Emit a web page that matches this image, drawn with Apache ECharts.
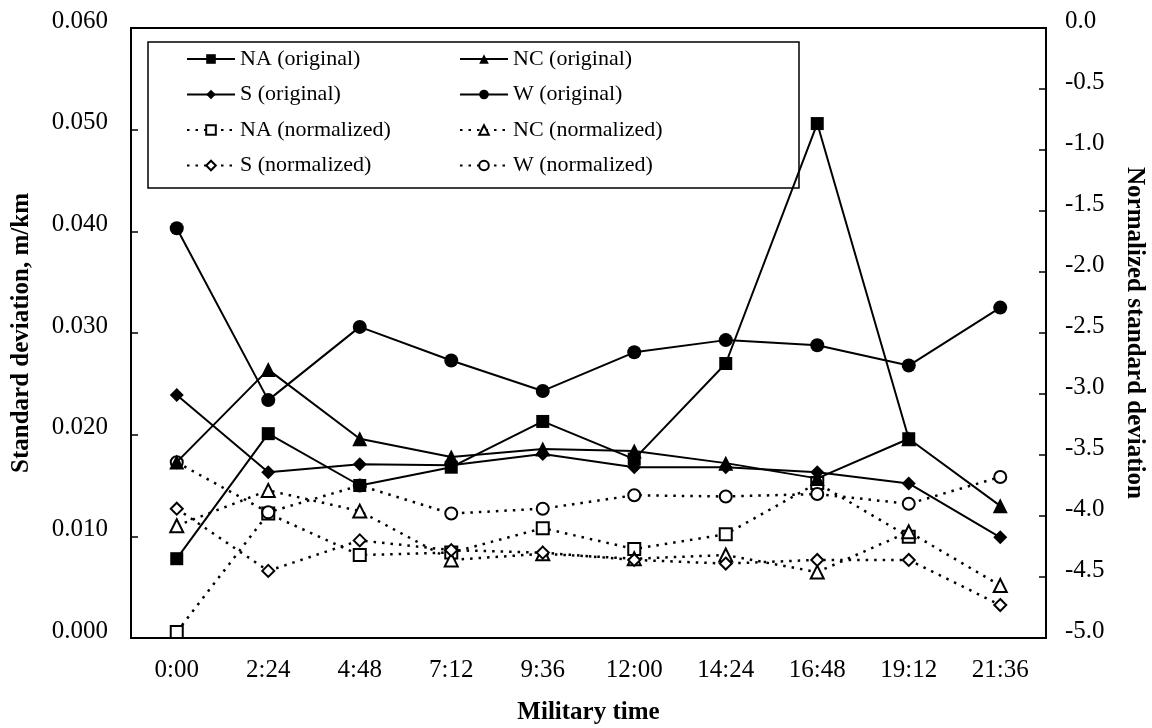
<!DOCTYPE html>
<html>
<head>
<meta charset="utf-8">
<script src="https://cdn.jsdelivr.net/npm/echarts@6/dist/echarts.min.js"></script>
<style>
  html, body { margin: 0; padding: 0; background: #fff; }
  #chart { width: 1152px; height: 728px; }
</style>
</head>
<body>
<div id="chart"></div>
<script>
// time of day categories
const times = ['0:00', '2:24', '4:48', '7:12', '9:36', '12:00', '14:24', '16:48', '19:12', '21:36']

// standard deviation, m/km (left axis)
const naOriginal = [0.0078, 0.0201, 0.0150, 0.0168, 0.0213, 0.0176, 0.0270, 0.0506, 0.0196, null]
const ncOriginal = [0.0173, 0.0264, 0.0196, 0.0178, 0.0186, 0.0184, 0.0172, 0.0157, 0.0196, 0.0130]
const sOriginal = [0.0239, 0.0163, 0.0171, 0.0170, 0.0181, 0.0168, 0.0168, 0.0163, 0.0152, 0.0099]
const wOriginal = [0.0403, 0.0234, 0.0306, 0.0273, 0.0243, 0.0281, 0.0293, 0.0288, 0.0268, 0.0325]

// normalized standard deviation (right axis)
const naNormalized = [-4.95, -3.98, -4.32, -4.30, -4.10, -4.27, -4.15, -3.73, -4.17, null]
const ncNormalized = [-4.08, -3.79, -3.96, -4.36, -4.31, -4.35, -4.32, -4.46, -4.13, -4.57]
const sNormalized = [-3.94, -4.45, -4.20, -4.28, -4.30, -4.36, -4.39, -4.36, -4.36, -4.73]
const wNormalized = [-3.56, -3.97, -3.75, -3.98, -3.94, -3.83, -3.84, -3.82, -3.90, -3.68]

const FONT = 'Liberation Serif'

const chart = echarts.init(document.getElementById('chart'))

// solid line series on the left axis
const originalSeries = (name, data, symbol, size) => ({
  name,
  type: 'line',
  yAxisIndex: 0,
  data,
  symbol,
  symbolSize: size,
  z: 3,
  itemStyle: { color: '#000' },
  lineStyle: { color: '#000', width: 2, type: 'solid' }
})

// dotted line series on the right axis
const normalizedSeries = (name, data, symbol, size) => ({
  name,
  type: 'line',
  yAxisIndex: 1,
  data,
  symbol,
  symbolSize: size,
  z: 2,
  itemStyle: { color: '#000', borderColor: '#000', borderWidth: 1.6 },
  lineStyle: { color: '#000', width: 2.5, type: [2.5, 6] }
})

const legendText = { fontFamily: FONT, fontSize: 22, color: '#000', lineHeight: 24 }
const tickLabel = { fontFamily: FONT, fontSize: 25, color: '#000', verticalAlign: 'bottom', lineHeight: 14 }
const axisName = { fontFamily: FONT, fontSize: 25, fontWeight: 'bold', color: '#000' }

const option = {
  animation: false,
  textStyle: { fontFamily: FONT, color: '#000' },
  grid: {
    left: 131,
    right: 106,
    top: 28,
    bottom: 90,
    containLabel: false,
    outerBoundsMode: 'none',
    show: true,
    borderColor: '#000',
    borderWidth: 2,
    backgroundColor: 'transparent'
  },
  graphic: [
    {
      type: 'rect',
      z: 3,
      shape: { x: 148, y: 42, width: 651, height: 146 },
      style: { fill: '#fff', stroke: '#000', lineWidth: 1.5 }
    }
  ],
  legend: [
    {
      data: ['NA (original)', 'S (original)', 'NA (normalized)', 'S (normalized)'],
      orient: 'vertical',
      left: 181,
      top: 42,
      z: 5,
      itemWidth: 48,
      itemHeight: 12,
      itemGap: 11.5,
      textStyle: legendText
    },
    {
      data: ['NC (original)', 'W (original)', 'NC (normalized)', 'W (normalized)'],
      orient: 'vertical',
      left: 454,
      top: 42,
      z: 5,
      itemWidth: 48,
      itemHeight: 12,
      itemGap: 11.5,
      textStyle: legendText
    }
  ],
  xAxis: {
    type: 'category',
    data: times,
    boundaryGap: true,
    name: 'Military time',
    nameLocation: 'middle',
    nameGap: 62,
    nameTextStyle: axisName,
    axisLine: { lineStyle: { color: '#000', width: 2 } },
    axisTick: { inside: true, length: 7, lineStyle: { color: '#000', width: 1.5 } },
    axisLabel: { fontFamily: FONT, fontSize: 25, color: '#000', margin: 20 },
    splitLine: { show: false }
  },
  yAxis: [
    {
      type: 'value',
      position: 'left',
      min: 0,
      max: 0.06,
      interval: 0.01,
      name: 'Standard deviation, m/km',
      nameLocation: 'middle',
      nameRotate: 90,
      nameGap: 97,
      nameTextStyle: axisName,
      axisLine: { show: true, lineStyle: { color: '#000', width: 2 } },
      axisTick: { show: true, inside: true, length: 7, lineStyle: { color: '#000', width: 1.5 } },
      axisLabel: Object.assign({ margin: 23, formatter: v => v.toFixed(3) }, tickLabel),
      splitLine: { show: false }
    },
    {
      type: 'value',
      position: 'right',
      min: -5,
      max: 0,
      interval: 0.5,
      name: 'Normalized standard deviation',
      nameLocation: 'middle',
      nameRotate: -90,
      nameGap: 76,
      nameTextStyle: axisName,
      axisLine: { show: true, lineStyle: { color: '#000', width: 2 } },
      axisTick: { show: true, inside: true, length: 7, lineStyle: { color: '#000', width: 1.5 } },
      axisLabel: Object.assign({ margin: 19, formatter: v => v.toFixed(1) }, tickLabel),
      splitLine: { show: false }
    }
  ],
  series: [
    normalizedSeries('NA (normalized)', naNormalized, 'emptyRect', 12),
    normalizedSeries('NC (normalized)', ncNormalized, 'emptyTriangle', 13),
    normalizedSeries('S (normalized)', sNormalized, 'emptyDiamond', 12),
    normalizedSeries('W (normalized)', wNormalized, 'emptyCircle', 12),
    originalSeries('NA (original)', naOriginal, 'rect', 13),
    originalSeries('NC (original)', ncOriginal, 'triangle', 15),
    originalSeries('S (original)', sOriginal, 'diamond', 14),
    originalSeries('W (original)', wOriginal, 'circle', 14)
  ]
}

chart.setOption(option)
</script>
</body>
</html>
